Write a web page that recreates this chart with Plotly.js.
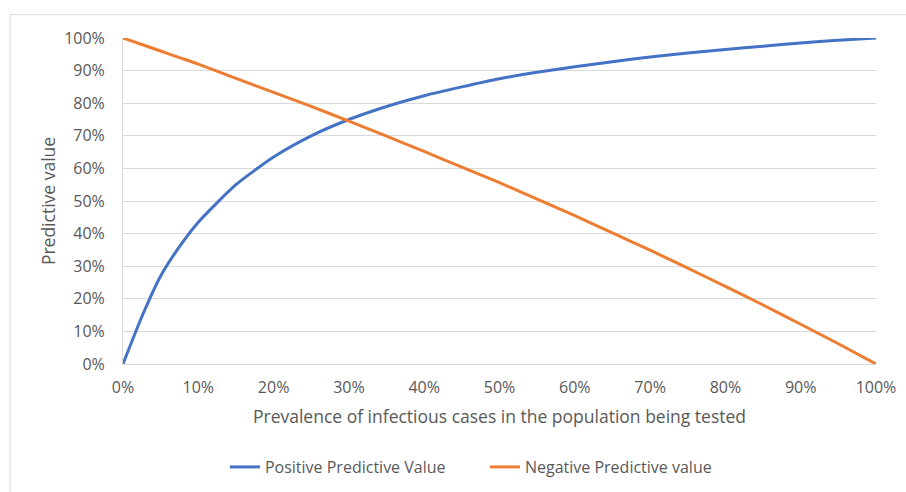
<!DOCTYPE html>
<html>
<head>
<meta charset="utf-8">
<script src="https://cdn.plot.ly/plotly-3.0.1.min.js"></script>
<style>html,body{margin:0;padding:0;background:#fff;}#chart{width:906px;height:492px;}</style>
</head>
<body>
<div id="chart"></div>
<script>
// Prevalence (%)
const prevalence = [0, 2.5, 5, 7.5, 10, 15, 20, 25, 30, 35, 40, 45, 50, 55, 60, 65, 70, 75, 80, 85, 90, 95, 100];
// Positive predictive value (%)
const ppv = [0, 14.5, 27, 36, 43.5, 55, 63.5, 70, 75, 79, 82.3, 85, 87.5, 89.5, 91.2, 92.7, 94.2, 95.4, 96.5, 97.5, 98.5, 99.3, 100];
// Negative predictive value (%)
const npv = [100, 98, 96, 94, 92, 87.6, 83.3, 79, 74.5, 69.9, 65.2, 60.4, 55.6, 50.6, 45.5, 40.2, 34.9, 29.4, 23.8, 18.1, 12.2, 6.2, 0];
const seriesNames = ['Positive Predictive Value', 'Negative Predictive value'];
const xTitle = 'Prevalence of infectious cases in the population being tested';
const yTitle = 'Predictive value';

const FONT = 'Open Sans, Noto Sans, sans-serif';
const GREY = '#595959';

const traces = [
  {x: prevalence, y: ppv, name: seriesNames[0], type: 'scatter', mode: 'lines',
   line: {color: '#4472C4', width: 3, shape: 'spline', smoothing: 0.6}},
  {x: prevalence, y: npv, name: seriesNames[1], type: 'scatter', mode: 'lines',
   line: {color: '#ED7D31', width: 3, shape: 'spline', smoothing: 0.6}}
];

const layout = {
  width: 906, height: 492,
  margin: {l: 123, r: 30, t: 38, b: 128},
  paper_bgcolor: '#ffffff', plot_bgcolor: '#ffffff',
  font: {family: FONT, color: GREY, size: 16},
  showlegend: true,
  legend: {orientation: 'h', xref: 'container', yref: 'container',
           x: 0.2483, xanchor: 'left', y: 0.0508, yanchor: 'middle',
           entrywidth: 215, entrywidthmode: 'pixels',
           font: {size: 16, color: GREY}, traceorder: 'normal'},
  xaxis: {range: [0, 100], dtick: 10, tick0: 0, ticksuffix: '%', showgrid: false,
          automargin: false,
          showline: true, linecolor: '#d9d9d9', linewidth: 1, zeroline: false, ticks: '',
          ticklabelstandoff: 9,
          tickfont: {size: 16, color: GREY},
          title: {text: xTitle, font: {size: 17.5, color: GREY}, standoff: 13}},
  yaxis: {range: [0, 100], dtick: 10, tick0: 0, ticksuffix: '%', showgrid: true,
          automargin: false,
          gridcolor: '#d9d9d9', gridwidth: 1, showline: true, linecolor: '#d9d9d9',
          zeroline: false, ticks: '', ticklabelstandoff: 14,
          tickfont: {size: 16, color: GREY},
          title: {text: yTitle, font: {size: 17.5, color: GREY}, standoff: 4}},
  shapes: [{type: 'rect', xref: 'paper', yref: 'paper',
            x0: -0.150, x1: 1.06, y0: -0.45, y1: 1.0715,
            line: {color: '#d9d9d9', width: 1}, fillcolor: 'rgba(0,0,0,0)', layer: 'below'}]
};

Plotly.newPlot('chart', traces, layout, {staticPlot: true, displayModeBar: false});
</script>
</body>
</html>
